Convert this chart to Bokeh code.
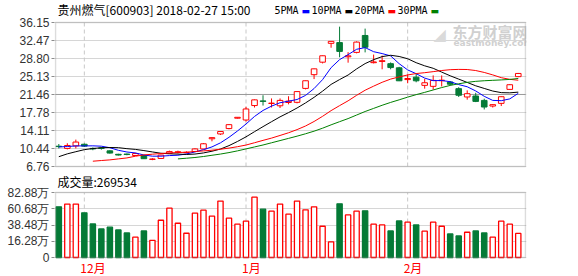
import numpy as np
from bokeh.plotting import figure
from bokeh.layouts import column
from bokeh.models import Range1d, FixedTicker, Label, BoxAnnotation, PrintfTickFormatter
from bokeh.embed import file_html
from bokeh.resources import INLINE

# ---------------- data ----------------
stock_title = "贵州燃气[600903] 2018-02-27 15:00"
opens = [10.90, 10.45, 10.96, 11.30, 10.45, 10.55, 9.95, 9.25, 9.30, 9.00,
         9.00, 8.22, 8.40, 9.47, 9.70, 9.58, 9.82, 10.35, 12.42, 13.40,
         14.50, 16.62, 16.25, 19.20, 20.15, 19.62, 19.15, 19.82, 19.86, 22.70,
         25.50, 28.05, 31.90, 32.05, 29.15, 30.05, 33.50, 27.95, 28.20, 27.75,
         26.90, 24.50, 25.00, 23.32, 23.12, 24.28, 24.00, 22.65, 20.95, 21.15,
         20.25, 19.10, 19.65, 22.50, 25.10]
highs = [11.35, 11.50, 12.25, 11.45, 10.65, 10.70, 10.05, 9.35, 9.40, 9.55,
         9.05, 8.45, 9.15, 10.00, 10.00, 9.85, 10.45, 11.55, 12.68, 13.95,
         15.40, 16.85, 18.95, 20.45, 21.30, 20.65, 20.65, 21.10, 22.10, 24.30,
         26.75, 29.40, 32.30, 35.30, 30.10, 32.30, 34.90, 29.60, 29.40, 28.00,
         27.10, 25.55, 25.75, 24.65, 25.35, 25.35, 24.20, 22.95, 22.30, 21.80,
         20.60, 19.45, 21.05, 23.55, 25.85]
lows = [10.45, 10.25, 10.45, 10.75, 10.08, 10.20, 9.40, 9.00, 9.05, 8.95,
        8.30, 8.05, 8.35, 9.40, 9.42, 9.45, 9.75, 10.30, 11.90, 13.20,
        14.35, 16.55, 15.95, 18.80, 19.20, 18.80, 18.70, 19.45, 19.65, 22.50,
        24.60, 27.80, 31.00, 29.05, 27.95, 29.85, 30.05, 27.80, 26.60, 26.60,
        24.20, 23.75, 23.95, 22.65, 22.45, 23.10, 23.30, 20.95, 20.40, 19.90,
        18.40, 18.80, 19.10, 22.40, 25.00]
closes = [10.82, 11.05, 11.75, 10.92, 10.35, 10.45, 9.50, 9.10, 9.20, 9.40,
          8.35, 8.28, 9.10, 9.80, 9.76, 9.65, 10.35, 11.40, 12.65, 13.90,
          15.30, 16.80, 18.50, 20.36, 20.05, 19.70, 20.25, 20.10, 22.05, 24.26,
          26.69, 29.36, 32.30, 30.25, 29.35, 32.15, 31.10, 28.10, 28.35, 26.95,
          24.25, 24.72, 24.25, 23.85, 24.33, 24.38, 23.55, 21.30, 21.62, 20.05,
          18.90, 19.38, 21.00, 23.45, 25.75]
# volume in 万 (10,000 shares)
volumes = [63.3, 67.0, 67.0, 55.1, 40.0, 33.1, 35.5, 31.8, 27.6, 21.8,
           30.4, 17.6, 45.0, 61.5, 40.9, 27.2, 54.6, 58.7, 50.5, 71.1,
           47.8, 39.6, 43.7, 76.5, 60.1, 57.4, 67.0, 53.3, 71.1, 59.2,
           63.3, 36.8, 15.3, 67.4, 52.3, 57.4, 57.8, 39.6, 38.6, 30.4,
           44.1, 42.3, 38.6, 30.0, 42.3, 36.8, 26.3, 23.5, 28.6, 30.4,
           27.6, 21.8, 43.7, 39.6, 26.9534]

month_start_idx = [3, 22, 41]
month_labels = ["12月", "1月", "2月"]

price_ticks = [6.76, 10.44, 14.11, 17.78, 21.46, 25.13, 28.80, 32.47, 36.15]
vol_ticks = [-5.92, 16.28, 38.48, 60.68, 82.88]
vol_tick_labels = ["0", "16.28万", "38.48万", "60.68万", "82.88万"]

ma_names = ["5PMA", "10PMA", "20PMA", "30PMA"]
ma_periods = [5, 10, 20, 30]
ma_colors = ["#0000ff", "#000000", "#ff0000", "#008000"]
# first bar where each average is shown (stock listed shortly before the window)
ma_first = [0, 0, 4, 14]
# averages for bars whose window reaches before the shown data
ma5_head = [10.75, 10.83, 10.96, 10.96]
ma10_head = [8.76, 9.34, 9.78, 10.20, 10.43, 10.59, 10.64, 10.60, 10.40]
ma20_head = [7.84, 7.98, 8.11, 8.31, 8.51, 8.86, 9.12, 9.27, 9.41, 9.53,
             9.61, 9.67, 9.82, 9.94, 10.08]
ma30_head = [8.31, 8.45, 8.60, 8.80, 9.05, 9.30, 9.60, 9.95, 10.35, 10.75,
             11.15, 11.60, 12.05, 12.50, 12.95]
ma_heads = [ma5_head, ma10_head, ma20_head, ma30_head]

# ---------------- styling / geometry ----------------
RED = "#ff0000"
GREEN = "#047a36"
FRAME_COL = "#8c8c8c"
GRID_COL = "#d6d6d6"
CJK = "Noto Sans CJK SC"
MONO = "DejaVu Sans Mono"
W = 578
BL, BR = 55, 525              # drawn box left/right (px)
P_FIG_H = 174                 # price canvas height
P_BOX_T, P_BOX_B = 22, 166    # price box top/bottom (px in price canvas)
V_FIG_H = 102                 # volume canvas height
V_BOX_T, V_BOX_B = 18, 83     # volume box top/bottom (px in volume canvas)

N = len(closes)
idx = np.arange(N)
o = np.array(opens); c = np.array(closes)
up = c >= o
line_cols = [RED if u else GREEN for u in up]
fill_cols = ["white" if u else GREEN for u in up]
body_top = np.maximum(o, c)
body_bot = np.minimum(o, c)

XS, XE = -0.39, 54.85         # data extent inside the drawn box
dx = (XE - XS) / (BR - BL)    # data per px
x_range = Range1d(XS - dx, XE + dx)   # frame is 1px wider than the box on each side


def px_x(px):
    return XS + (px - BL) * dx


P_LO, P_HI = price_ticks[0], price_ticks[-1]
dyp = (P_HI - P_LO) / (P_BOX_B - P_BOX_T)
V_LO, V_HI = vol_ticks[0], vol_ticks[-1]
dyv = (V_HI - V_LO) / (V_BOX_B - V_BOX_T)


def px_y_price(py):
    return P_HI + (P_BOX_T - py) * dyp


def px_y_vol(py):  # py in page pixels
    return V_HI + (P_FIG_H + V_BOX_T - py) * dyv


def style_fig(fig):
    fig.outline_line_color = None
    fig.xgrid.visible = False
    fig.ygrid.grid_line_color = GRID_COL
    ax = fig.yaxis[0]
    ax.axis_line_color = None
    ax.major_tick_out = 3
    ax.major_tick_in = 0
    ax.major_tick_line_color = FRAME_COL
    ax.minor_tick_line_color = None
    ax.major_label_standoff = 2
    ax.major_label_text_font = "Liberation Sans"
    ax.major_label_text_font_size = "12px"
    ax.major_label_text_color = "#333333"


# ---------------- price panel ----------------
p = figure(width=W, height=P_FIG_H, x_range=x_range,
           y_range=Range1d(px_y_price(P_FIG_H), px_y_price(0)),
           x_axis_type=None, output_backend="svg", toolbar_location=None,
           min_border_left=BL - 1, min_border_right=W - BR - 1,
           min_border_top=0, min_border_bottom=0, title=None)
p.yaxis.ticker = FixedTicker(ticks=price_ticks)
p.yaxis.formatter = PrintfTickFormatter(format="%.2f")
style_fig(p)

# month separators and middle reference line
p.segment(x0=month_start_idx, y0=P_LO, x1=month_start_idx, y1=P_HI,
          line_color="#c8c8c8", line_dash="4 3", line_width=1)
p.segment(x0=[XS], y0=[price_ticks[4]], x1=[XE], y1=[price_ticks[4]],
          line_color="#9a9a9a", line_width=1)

# watermark
p.add_layout(Label(x=px_x(433), y=px_y_price(34), text="◢",
                   text_font="DejaVu Sans", text_font_size="16px",
                   text_color="#dadada", text_baseline="middle", level="underlay"))
p.add_layout(Label(x=px_x(452), y=px_y_price(31), text="东方财富网",
                   text_font=CJK, text_font_style="bold", text_font_size="15px",
                   text_color="#d0d0d0", text_baseline="middle", level="underlay"))
p.add_layout(Label(x=px_x(453), y=px_y_price(42), text="eastmoney.com",
                   text_font="DejaVu Sans", text_font_style="bold", text_font_size="9px",
                   text_color="#d0d0d0", text_baseline="middle", level="underlay"))

# candles
p.segment(x0=idx, y0=lows, x1=idx, y1=highs, line_color=line_cols, line_width=1)
p.vbar(x=idx, width=0.66, top=body_top, bottom=body_bot,
       fill_color=fill_cols, line_color=line_cols, line_width=1)

# moving averages
for n, first, head, col in zip(ma_periods, ma_first, ma_heads, ma_colors):
    comp = [float(np.mean(c[i - n + 1:i + 1])) for i in range(n - 1, N)]
    vals = list(head) + comp
    xs = idx[first:first + len(vals)]
    p.line(xs, vals, line_color=col, line_width=1)

# box outline
p.add_layout(BoxAnnotation(left=XS, right=XE, bottom=P_LO, top=P_HI,
                           fill_alpha=0, line_color=FRAME_COL, line_width=1.5))

# header
p.add_layout(Label(x=px_x(57), y=px_y_price(9), text=stock_title,
                   text_font=CJK, text_font_size="12px", text_color="#000000",
                   text_baseline="middle"))
for i, (name, col) in enumerate(zip(ma_names, ma_colors)):
    sq_left = 302 + 43 * i
    p.add_layout(Label(x=px_x(sq_left - 4), y=px_y_price(10), text=name,
                       text_font=MONO, text_font_size="10px", text_color="#000000",
                       text_baseline="middle", text_align="right"))
    p.add_layout(Label(x=px_x(sq_left - 1), y=px_y_price(10), text="▬",
                       text_font="DejaVu Sans", text_font_size="9px", text_color=col,
                       text_baseline="middle", text_align="left"))

# ---------------- volume panel ----------------
v = figure(width=W, height=V_FIG_H, x_range=x_range,
           y_range=Range1d(px_y_vol(P_FIG_H + V_FIG_H), px_y_vol(P_FIG_H)),
           x_axis_type=None, output_backend="svg", toolbar_location=None,
           min_border_left=BL - 1, min_border_right=W - BR - 1,
           min_border_top=0, min_border_bottom=0, title=None)
v.yaxis.ticker = FixedTicker(ticks=vol_ticks)
v.yaxis.major_label_overrides = {t: lab for t, lab in zip(vol_ticks, vol_tick_labels)}
style_fig(v)
v.segment(x0=month_start_idx, y0=V_LO, x1=month_start_idx, y1=V_HI,
          line_color="#c8c8c8", line_dash="4 3", line_width=1)
v.vbar(x=idx, width=0.62, top=volumes, bottom=V_LO,
       fill_color=fill_cols, line_color=line_cols, line_width=1.3)
v.add_layout(BoxAnnotation(left=XS, right=XE, bottom=V_LO, top=V_HI,
                           fill_alpha=0, line_color=FRAME_COL, line_width=1.5))

v.add_layout(Label(x=px_x(57), y=px_y_vol(181),
                   text="成交量:%d" % round(volumes[-1] * 10000),
                   text_font=CJK, text_font_size="12px", text_color="#000000",
                   text_baseline="middle"))
for m, lab in zip(month_start_idx, month_labels):
    v.add_layout(Label(x=m, x_offset=-4, y=px_y_vol(267), text=lab,
                       text_font=CJK, text_font_size="12px", text_color=RED,
                       text_baseline="middle", text_align="left"))

layout = column(p, v, spacing=0)
open("out.html", "w").write(file_html(layout, INLINE))
